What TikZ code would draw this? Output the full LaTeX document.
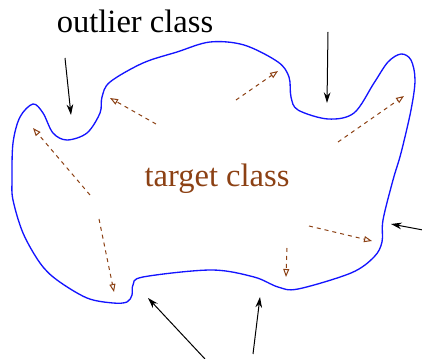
\documentclass[tikz,border=0pt]{standalone}
\usepackage{fontspec}
\setmainfont{Liberation Serif}
\usepackage{tikz}
\usetikzlibrary{arrows.meta}
\definecolor{rim}{RGB}{20,20,255}
\definecolor{tgt}{RGB}{140,65,20}
\definecolor{ink}{RGB}{0,0,0}
\tikzset{
  bound/.style={draw=rim,line width=1pt,line join=round},
  lbl/.style={anchor=base,inner sep=0pt,font=\fontsize{24.4}{29}\selectfont},
  hit/.style={-{Stealth[length=8pt,width=5pt]},ink,line width=0.75pt},
  push/.style={-{Triangle[open,length=6pt,width=4.5pt]},tgt,line width=0.75pt,
    dash pattern=on 3pt off 3pt},
}

\begin{document}
\begin{tikzpicture}[x=0.75pt,y=-0.75pt]
  \useasboundingbox (0,0) rectangle (422,359);
  % boundary of the target class
  \draw[bound] plot[smooth cycle,tension=0.55] coordinates {
    (12,180) (13,143) (20,117) (33,104) (43,113) (53,133) (67,140) (87,133)
    (100,113) (102,97) (110,82) (143,63) (177,52) (210,42) (244,45) (278,62)
    (289,77) (291,97) (298,110) (328,119) (354,113) (374,83) (388,62) (401,54)
    (411,60) (415,80) (411,110) (401,153) (393,180) (383,220) (382,242)
    (374,257) (351,273) (298,289) (278,287) (254,277) (211,270) (143,277)
    (133,285) (132,295) (127,302) (113,303) (87,298) (57,280) (40,263)
    (23,233) (13,200)};

  \node[lbl] (outl) at (135,33) {outlier class};
  \node[lbl,text=tgt] (targ) at (217,187) {target class};

  % outliers pressing in
  \coordinate (o1s) at (65,58);   \coordinate (o1e) at (71,115);
  \coordinate (o2s) at (328,32);  \coordinate (o2e) at (327,103);
  \coordinate (o3s) at (423,230); \coordinate (o3e) at (391,224);
  \coordinate (o4s) at (253,354); \coordinate (o4e) at (260,297);
  \coordinate (o5s) at (205,359); \coordinate (o5e) at (148,298);
  \draw[hit] (o1s) -- (o1e);
  \draw[hit] (o2s) -- (o2e);
  \draw[hit] (o3s) -- (o3e);
  \draw[hit] (o4s) -- (o4e);
  \draw[hit] (o5s) -- (o5e);

  % target pushing out
  \coordinate (t1s) at (156,124); \coordinate (t1e) at (110,98);
  \coordinate (t2s) at (90,195);  \coordinate (t2e) at (33,128);
  \coordinate (t3s) at (99,219);  \coordinate (t3e) at (114,292);
  \coordinate (t4s) at (236,100); \coordinate (t4e) at (278,71);
  \coordinate (t5s) at (338,142); \coordinate (t5e) at (404,96);
  \coordinate (t6s) at (309,226); \coordinate (t6e) at (372,241);
  \coordinate (t7s) at (287,248); \coordinate (t7e) at (286,277);
  \draw[push] (t1s) -- (t1e);
  \draw[push] (t2s) -- (t2e);
  \draw[push] (t3s) -- (t3e);
  \draw[push] (t4s) -- (t4e);
  \draw[push] (t5s) -- (t5e);
  \draw[push] (t6s) -- (t6e);
  \draw[push] (t7s) -- (t7e);
\end{tikzpicture}
\end{document}
